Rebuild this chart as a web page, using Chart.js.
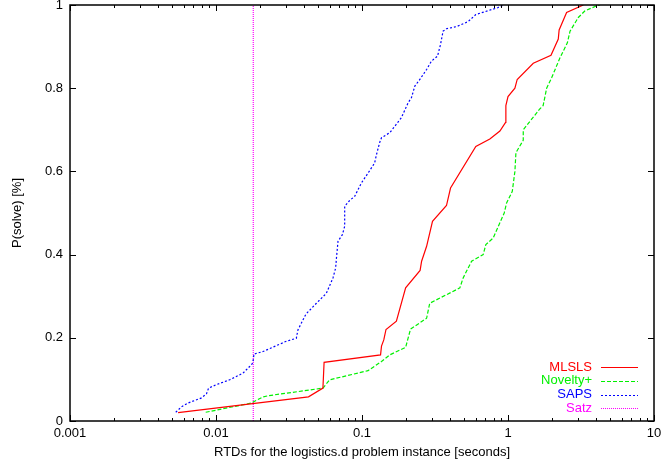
<!DOCTYPE html>
<html>
<head>
<meta charset="utf-8">
<title>RTDs logistics.d</title>
<script src="https://cdn.jsdelivr.net/npm/chart.js@4.4.1/dist/chart.umd.min.js"></script>
<style>
  html, body { margin: 0; padding: 0; background: #fff; }
  canvas { display: block; }
</style>
</head>
<body>
<canvas id="rtd" width="661" height="463"></canvas>
<script>
// run-time distributions, seconds vs. fraction of runs solved
const xTicks = [0.001, 0.01, 0.1, 1, 10]
const yTicks = [0, 0.2, 0.4, 0.6, 0.8, 1]

const mlslsSeconds = [0.0055, 0.043, 0.054, 0.055, 0.134, 0.136, 0.141, 0.146, 0.172, 0.199, 0.25, 0.256, 0.277, 0.304, 0.379, 0.404, 0.602, 0.751, 0.88, 0.963, 0.967, 1.0, 1.115, 1.156, 1.49, 1.97, 2.21, 2.24, 2.52, 3.28]
const mlslsSolved = [0.02, 0.058, 0.079, 0.141, 0.159, 0.18, 0.195, 0.22, 0.24, 0.32, 0.362, 0.384, 0.42, 0.48, 0.518, 0.56, 0.66, 0.678, 0.697, 0.718, 0.758, 0.78, 0.80, 0.821, 0.86, 0.879, 0.918, 0.94, 0.982, 1.0]

const noveltySeconds = [0.0085, 0.0174, 0.021, 0.023, 0.054, 0.06, 0.11, 0.136, 0.155, 0.199, 0.215, 0.277, 0.291, 0.468, 0.493, 0.563, 0.676, 0.705, 0.792, 0.942, 0.978, 1.07, 1.115, 1.133, 1.272, 1.272, 1.64, 1.74, 1.84, 1.99, 2.27, 2.55, 2.66, 3.03, 3.37, 4.05, 4.27]
const noveltySolved = [0.021, 0.043, 0.058, 0.061, 0.079, 0.099, 0.121, 0.143, 0.159, 0.177, 0.221, 0.247, 0.283, 0.32, 0.344, 0.384, 0.40, 0.424, 0.44, 0.50, 0.524, 0.552, 0.60, 0.645, 0.675, 0.70, 0.749, 0.758, 0.80, 0.825, 0.873, 0.909, 0.937, 0.97, 0.986, 0.998, 1.0]

const sapsSeconds = [0.0053, 0.0058, 0.0064, 0.0079, 0.0086, 0.0089, 0.010, 0.0124, 0.0153, 0.017, 0.0179, 0.0182, 0.021, 0.030, 0.0355, 0.0364, 0.0413, 0.0487, 0.057, 0.0633, 0.066, 0.067, 0.0685, 0.0734, 0.0761, 0.0761, 0.0823, 0.0891, 0.0939, 0.099, 0.11, 0.122, 0.1256, 0.132, 0.136, 0.155, 0.186, 0.207, 0.218, 0.23, 0.249, 0.277, 0.299, 0.329, 0.345, 0.359, 0.379, 0.444, 0.533, 0.602, 0.857, 0.927]
const sapsSolved = [0.021, 0.034, 0.043, 0.055, 0.065, 0.079, 0.087, 0.099, 0.115, 0.131, 0.14, 0.161, 0.167, 0.191, 0.199, 0.219, 0.257, 0.283, 0.307, 0.344, 0.368, 0.396, 0.432, 0.448, 0.468, 0.516, 0.53, 0.54, 0.556, 0.572, 0.596, 0.62, 0.64, 0.669, 0.681, 0.693, 0.729, 0.765, 0.777, 0.805, 0.821, 0.845, 0.865, 0.877, 0.905, 0.937, 0.943, 0.948, 0.96, 0.977, 0.994, 1.0]

const satzSeconds = [0.018, 0.018]
const satzSolved = [0, 1]

const FONT = 'Liberation Sans, Arial, Helvetica, sans-serif'

function toPoints(xs, ys) {
    return xs.map((x, i) => ({ x: x, y: ys[i] }))
}

function series(label, xs, ys, color, dash) {
    return {
        label: label,
        data: toPoints(xs, ys),
        borderColor: color,
        backgroundColor: color,
        borderWidth: 1.2,
        borderDash: dash,
        pointRadius: 0,
        tension: 0,
        fill: false
    }
}

// gnuplot style frame: border plus inward ticks mirrored on all sides, key bottom right
const framePlugin = {
    id: 'frame',
    afterDatasetsDraw(chart) {
        const ctx = chart.ctx
        const area = chart.chartArea
        const xs = chart.scales.x
        const ys = chart.scales.y
        ctx.save()
        ctx.strokeStyle = '#000'
        ctx.lineWidth = 1
        ctx.beginPath()
        for (let d = 0.001; d < 10; d *= 10) {
            for (let m = 1; m <= 10; m++) {
                const px = Math.round(xs.getPixelForValue(d * m)) + 0.5
                const len = (m === 1 || m === 10) ? 6 : 3
                ctx.moveTo(px, area.bottom)
                ctx.lineTo(px, area.bottom - len)
                ctx.moveTo(px, area.top)
                ctx.lineTo(px, area.top + len)
            }
        }
        yTicks.forEach(function (v) {
            const py = Math.round(ys.getPixelForValue(v)) + 0.5
            ctx.moveTo(area.left, py)
            ctx.lineTo(area.left + 6, py)
            ctx.moveTo(area.right, py)
            ctx.lineTo(area.right - 6, py)
        })
        ctx.stroke()
        ctx.lineWidth = 1.5
        ctx.strokeRect(area.left, area.top, area.right - area.left, area.bottom - area.top)

        // key
        ctx.font = '13px ' + FONT
        ctx.textAlign = 'right'
        ctx.textBaseline = 'middle'
        const sets = chart.data.datasets
        sets.forEach(function (ds, i) {
            const y = area.bottom - 12.7 - (sets.length - 1 - i) * 13.7
            const ly = Math.round(y) + 0.5
            ctx.fillStyle = ds.borderColor
            ctx.fillText(ds.label, area.right - 62, y)
            ctx.strokeStyle = ds.borderColor
            ctx.lineWidth = 1
            ctx.setLineDash(ds.borderDash || [])
            ctx.beginPath()
            ctx.moveTo(area.right - 53, ly)
            ctx.lineTo(area.right - 16, ly)
            ctx.stroke()
        })
        ctx.restore()
    }
}

new Chart(document.getElementById('rtd'), {
    type: 'line',
    data: {
        datasets: [
            series('MLSLS', mlslsSeconds, mlslsSolved, '#ff0000', []),
            series('Novelty+', noveltySeconds, noveltySolved, '#00f000', [4, 2]),
            series('SAPS', sapsSeconds, sapsSolved, '#0000ff', [2, 2]),
            series('Satz', satzSeconds, satzSolved, '#ff00ff', [1, 1])
        ]
    },
    options: {
        responsive: false,
        animation: false,
        devicePixelRatio: 1,
        layout: { padding: { top: 5, right: 7, left: 0, bottom: 0 } },
        plugins: {
            legend: { display: false },
            tooltip: { enabled: false }
        },
        scales: {
            x: {
                type: 'logarithmic',
                min: 0.001,
                max: 10,
                grid: { display: false, drawTicks: false },
                border: { display: false },
                afterBuildTicks: function (scale) {
                    scale.ticks = xTicks.map(v => ({ value: v }))
                },
                afterFit: function (scale) {
                    scale.height = 42
                    scale.paddingLeft = 0
                    scale.paddingRight = 0
                },
                ticks: {
                    autoSkip: false,
                    maxRotation: 0,
                    padding: 5,
                    color: '#000',
                    font: { family: FONT, size: 13 },
                    callback: function (value) {
                        return String(value)
                    }
                },
                title: {
                    display: true,
                    text: 'RTDs for the logistics.d problem instance [seconds]',
                    color: '#000',
                    font: { family: FONT, size: 13 },
                    padding: { top: 0, bottom: 3 }
                }
            },
            y: {
                min: 0,
                max: 1,
                grid: { display: false, drawTicks: false },
                border: { display: false },
                afterBuildTicks: function (scale) {
                    scale.ticks = yTicks.map(v => ({ value: v }))
                },
                afterFit: function (scale) {
                    scale.width = 70
                    scale.paddingTop = 0
                    scale.paddingBottom = 0
                },
                ticks: {
                    padding: 7,
                    color: '#000',
                    font: { family: FONT, size: 13 },
                    callback: function (value) {
                        return String(value)
                    }
                },
                title: {
                    display: true,
                    text: 'P(solve) [%]',
                    color: '#000',
                    font: { family: FONT, size: 13 },
                    padding: { top: 10, bottom: 0 }
                }
            }
        }
    },
    plugins: [framePlugin]
})
</script>
</body>
</html>
